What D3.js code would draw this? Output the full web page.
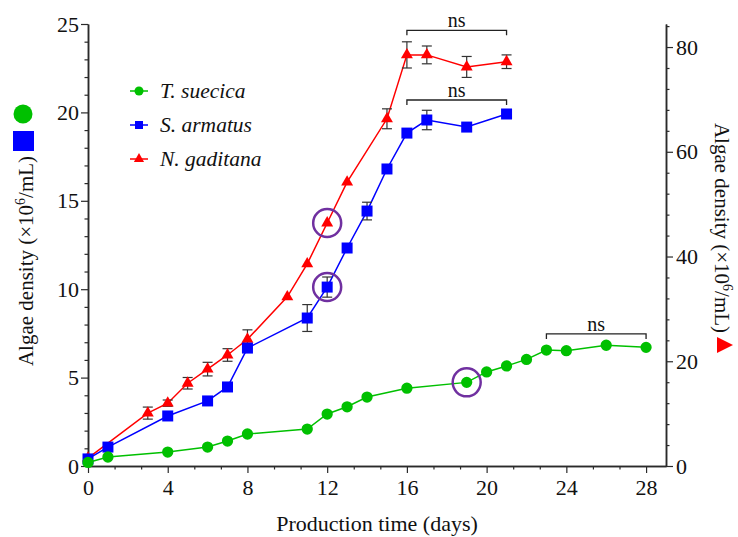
<!DOCTYPE html>
<html>
<head>
<meta charset="utf-8">
<script src="https://cdn.jsdelivr.net/npm/d3@7"></script>
<style>
  html, body { margin: 0; padding: 0; background: #fff; }
  svg { display: block; }
  text { font-family: "Liberation Serif", "Times New Roman", serif; fill: #111; }
</style>
</head>
<body>
<svg id="chart" width="738" height="537"></svg>
<script>
// Culture days and densities for the three microalgae
const daysSuecica = [0, 1, 4, 6, 7, 8, 11, 12, 13, 14, 16, 19, 20, 21, 22, 23, 24, 26, 28];
const suecica     = [0.2, 0.51, 0.79, 1.07, 1.41, 1.81, 2.09, 2.94, 3.35, 3.9, 4.4, 4.73, 5.32, 5.66, 6.03, 6.56, 6.52, 6.83, 6.71];

const daysArmatus = [0, 1, 4, 6, 7, 8, 11, 12, 13, 14, 15, 16, 17, 19, 21];
const armatus     = [0.4, 1.07, 2.83, 3.68, 4.47, 6.67, 8.37, 10.12, 12.33, 14.42, 16.8, 18.83, 19.57, 19.17, 19.91];
const armatusErr  = [0, 0, 0, 0, 0, 0, 0.76, 0.57, 0, 0.5, 0, 0, 0.55, 0, 0];

// N. gaditana is read on the right-hand axis
const daysGaditana = [0, 3, 4, 5, 6, 7, 8, 10, 11, 12, 13, 15, 16, 17, 19, 21];
const gaditana     = [1.5, 10.1, 12.0, 15.8, 18.5, 21.2, 24.2, 32.3, 38.6, 46.4, 54.2, 66.3, 78.5, 78.5, 76.2, 77.2];
const gaditanaErr  = [0, 1.15, 0.6, 1.1, 1.3, 1.2, 1.8, 0, 0, 0, 0, 1.9, 2.5, 1.7, 2.0, 1.3];

// Axis tick labels
const xTicks = [0, 4, 8, 12, 16, 20, 24, 28];
const yLeftTicks = [0, 5, 10, 15, 20, 25];
const yRightTicks = [0, 20, 40, 60, 80];

// Non-significant comparisons
const nsBrackets = [
  { axis: "right", from: 16, to: 21, level: 83.2 },
  { axis: "left",  from: 16, to: 21, level: 20.7 },
  { axis: "left",  from: 23, to: 28, level: 7.47 }
];

// Highlighted points
const highlights = [
  { axis: "right", day: 12, value: 46.4 },
  { axis: "left",  day: 12, value: 10.12 },
  { axis: "left",  day: 19, value: 4.73 }
];

const GREEN = "#00c000", BLUE = "#0000ff", RED = "#ff0000", PURPLE = "#7030a0", AXIS = "#2a2a2a";

const svg = d3.select("#chart");
const plotLeft = 88, plotRight = 666, plotTop = 24, plotBottom = 466;

const x = d3.scaleLinear().domain([0, 29]).range([plotLeft, plotRight]);
const yL = d3.scaleLinear().domain([0, 25]).range([plotBottom, plotTop]);
const yR = d3.scaleLinear().domain([0, 84.4]).range([plotBottom, plotTop]);

// ---- Axes ----
function styleAxis(g) {
  g.selectAll("path.domain").attr("stroke", AXIS).attr("stroke-width", 1.5);
  g.selectAll(".tick line").attr("stroke", AXIS).attr("stroke-width", 1.2);
  g.selectAll(".tick text").attr("font-size", 22).attr("fill", "#111")
    .style("font-family", '"Liberation Serif", "Times New Roman", serif');
}

const xMinor = d3.range(0, 22).map(k => k * 4 / 3).filter(v => Math.abs(v / 4 - Math.round(v / 4)) > 1e-6);
svg.append("g").attr("transform", `translate(0,${plotBottom})`)
  .call(d3.axisBottom(x).tickValues(xMinor).tickSize(3.5).tickFormat("").tickSizeOuter(0))
  .call(styleAxis);
svg.append("g").attr("transform", `translate(0,${plotBottom})`)
  .call(d3.axisBottom(x).tickValues(xTicks).tickSize(7).tickPadding(6).tickSizeOuter(0))
  .call(styleAxis);

const yLMinor = d3.range(0, 26).filter(v => v % 5 !== 0);
svg.append("g").attr("transform", `translate(${plotLeft},0)`)
  .call(d3.axisLeft(yL).tickValues(yLMinor).tickSize(3.5).tickFormat("").tickSizeOuter(0))
  .call(styleAxis);
svg.append("g").attr("transform", `translate(${plotLeft},0)`)
  .call(d3.axisLeft(yL).tickValues(yLeftTicks).tickSize(7).tickPadding(2).tickSizeOuter(0))
  .call(styleAxis);

const yRMinor = d3.range(0, 85, 4).filter(v => v % 20 !== 0);
svg.append("g").attr("transform", `translate(${plotRight},0)`)
  .call(d3.axisRight(yR).tickValues(yRMinor).tickSize(3.5).tickFormat("").tickSizeOuter(0))
  .call(styleAxis);
svg.append("g").attr("transform", `translate(${plotRight},0)`)
  .call(d3.axisRight(yR).tickValues(yRightTicks).tickSize(7).tickPadding(3).tickSizeOuter(0))
  .call(styleAxis);

// ---- Axis titles ----
svg.append("text").attr("x", (plotLeft + plotRight) / 2).attr("y", 531)
  .attr("text-anchor", "middle").attr("font-size", 22).text("Production time (days)");

function densityTitle(sel) {
  sel.append("tspan").text("Algae density (×10");
  sel.append("tspan").attr("font-size", 14).attr("dy", -8).text("6");
  sel.append("tspan").attr("dy", 8).text("/mL)");
}
svg.append("text").attr("transform", "translate(33,261) rotate(-90)")
  .attr("text-anchor", "middle").attr("font-size", 21).call(densityTitle);
svg.append("text").attr("transform", "translate(715,228) rotate(90)")
  .attr("text-anchor", "middle").attr("font-size", 21).call(densityTitle);

// Series keys beside the axis titles
svg.append("circle").attr("cx", 23).attr("cy", 114).attr("r", 9.5).attr("fill", GREEN);
svg.append("rect").attr("x", 13).attr("y", 131).attr("width", 21).attr("height", 20).attr("fill", BLUE);
svg.append("path").attr("d", "M717,337 L733,345 L717,353 Z").attr("fill", RED);

// ---- Series ----
function drawSeries(days, vals, errs, yScale, color, symbol, size) {
  const g = svg.append("g");
  const pts = days.map((d, i) => ({ d, v: vals[i], e: errs ? errs[i] : 0 }));
  g.append("path").datum(pts)
    .attr("fill", "none").attr("stroke", color).attr("stroke-width", 1.5)
    .attr("d", d3.line().x(p => x(p.d)).y(p => yScale(p.v)));
  const eb = g.selectAll("g.err").data(pts.filter(p => p.e > 0)).join("g")
    .attr("stroke", "#333").attr("stroke-width", 1.2);
  eb.append("line").attr("x1", p => x(p.d)).attr("x2", p => x(p.d))
    .attr("y1", p => yScale(p.v - p.e)).attr("y2", p => yScale(p.v + p.e));
  eb.append("line").attr("x1", p => x(p.d) - 5).attr("x2", p => x(p.d) + 5)
    .attr("y1", p => yScale(p.v + p.e)).attr("y2", p => yScale(p.v + p.e));
  eb.append("line").attr("x1", p => x(p.d) - 5).attr("x2", p => x(p.d) + 5)
    .attr("y1", p => yScale(p.v - p.e)).attr("y2", p => yScale(p.v - p.e));
  g.selectAll("path.mk").data(pts).join("path").attr("class", "mk")
    .attr("transform", p => `translate(${x(p.d)},${yScale(p.v)})`)
    .attr("d", d3.symbol(symbol, size)).attr("fill", color);
}

drawSeries(daysGaditana, gaditana, gaditanaErr, yR, RED, d3.symbolTriangle, 62);
drawSeries(daysArmatus, armatus, armatusErr, yL, BLUE, d3.symbolSquare, 121);
drawSeries(daysSuecica, suecica, null, yL, GREEN, d3.symbolCircle, 100);

// ---- Significance brackets ----
nsBrackets.forEach(b => {
  const ys = b.axis === "right" ? yR : yL;
  const yy = ys(b.level), x1 = x(b.from), x2 = x(b.to);
  svg.append("path")
    .attr("d", `M${x1},${yy + 5} V${yy} H${x2} V${yy + 5}`)
    .attr("fill", "none").attr("stroke", "#222").attr("stroke-width", 1.3);
  svg.append("text").attr("x", (x1 + x2) / 2).attr("y", yy - 3)
    .attr("text-anchor", "middle").attr("font-size", 20).text("ns");
});

// ---- Highlight rings ----
highlights.forEach(h => {
  const ys = h.axis === "right" ? yR : yL;
  svg.append("circle").attr("cx", x(h.day)).attr("cy", ys(h.value)).attr("r", 14)
    .attr("fill", "none").attr("stroke", PURPLE).attr("stroke-width", 2.5);
});

// ---- Legend ----
const legendItems = [
  { name: "T. suecica", color: GREEN, symbol: d3.symbolCircle, size: 64 },
  { name: "S. armatus", color: BLUE, symbol: d3.symbolSquare, size: 64 },
  { name: "N. gaditana", color: RED, symbol: d3.symbolTriangle, size: 45 }
];
const legend = svg.append("g");
legendItems.forEach((it, i) => {
  const yy = 91 + i * 34;
  legend.append("line").attr("x1", 130).attr("x2", 148).attr("y1", yy).attr("y2", yy)
    .attr("stroke", it.color).attr("stroke-width", 1.5);
  legend.append("path").attr("transform", `translate(139,${yy})`)
    .attr("d", d3.symbol(it.symbol, it.size)).attr("fill", it.color);
  legend.append("text").attr("x", 160).attr("y", yy + 7)
    .attr("font-size", 21.5).attr("font-style", "italic").text(it.name);
});
</script>
</body>
</html>
